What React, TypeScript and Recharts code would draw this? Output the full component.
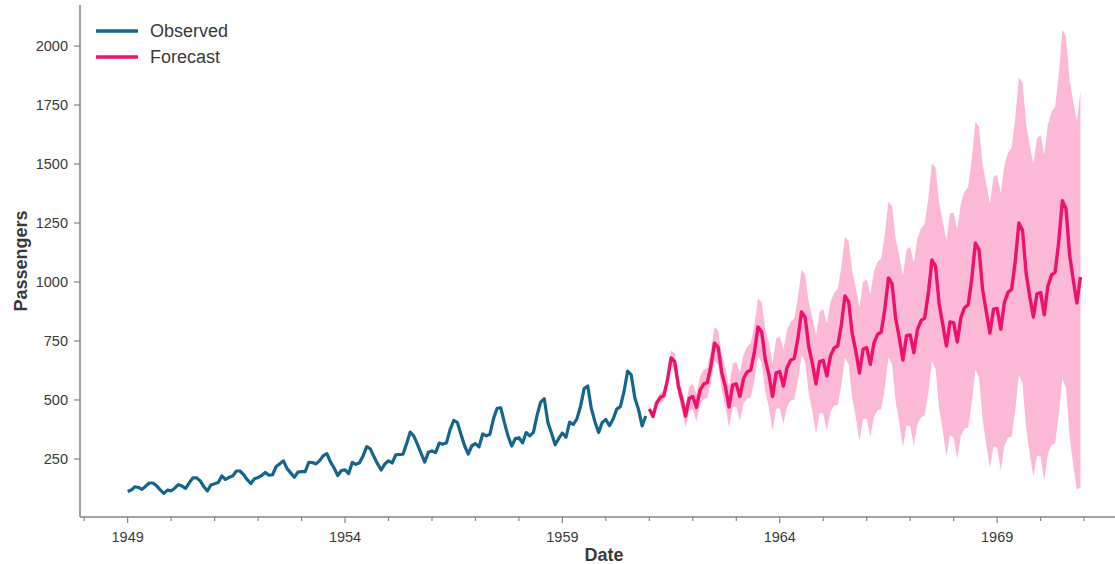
import { ComposedChart, Line, Area, XAxis, YAxis } from 'recharts'

// monthly passengers, Jan 1949 .. Dec 1960
const observedStart = 1949
const observed = [
  112, 118, 132, 129, 121, 135, 148, 148, 136, 119, 104, 118,
  115, 126, 141, 135, 125, 149, 170, 170, 158, 133, 114, 140,
  145, 150, 178, 163, 172, 178, 199, 199, 184, 162, 146, 166,
  171, 180, 193, 181, 183, 218, 230, 242, 209, 191, 172, 194,
  196, 196, 236, 235, 229, 243, 264, 272, 237, 211, 180, 201,
  204, 188, 235, 227, 234, 264, 302, 293, 259, 229, 203, 229,
  242, 233, 267, 269, 270, 315, 364, 347, 312, 274, 237, 278,
  284, 277, 317, 313, 318, 374, 413, 405, 355, 306, 271, 306,
  315, 301, 356, 348, 355, 422, 465, 467, 404, 347, 305, 336,
  340, 318, 362, 348, 363, 435, 491, 505, 404, 359, 310, 337,
  360, 342, 406, 396, 420, 472, 548, 559, 463, 407, 362, 405,
  417, 391, 419, 461, 472, 535, 622, 606, 508, 461, 390, 432,
]

// forecast, Jan 1961 .. Dec 1970
const forecastStart = 1961
const forecastMean = [
  462, 430, 487, 510, 518, 585, 678, 662, 560, 500, 432, 507,
  515, 468, 541, 567, 574, 645, 741, 722, 615, 556, 470, 563,
  568, 515, 591, 619, 627, 704, 809, 789, 671, 607, 515, 615,
  620, 559, 637, 668, 677, 760, 873, 851, 725, 655, 568, 663,
  668, 602, 687, 720, 729, 819, 941, 917, 781, 706, 614, 715,
  722, 651, 742, 778, 788, 885, 1017, 992, 844, 763, 669, 773,
  776, 700, 798, 836, 847, 951, 1093, 1066, 907, 820, 729, 831,
  827, 746, 850, 891, 903, 1014, 1165, 1136, 967, 874, 784, 885,
  888, 800, 913, 956, 969, 1088, 1250, 1219, 1038, 938, 852, 950,
  955, 861, 982, 1029, 1042, 1170, 1345, 1311, 1116, 1009, 911, 1021,
]
const forecastUpper = [
  468, 440, 501, 528, 540, 612, 710, 698, 600, 544, 479, 557,
  568, 524, 599, 628, 637, 711, 810, 794, 691, 636, 555, 653,
  662, 614, 694, 727, 739, 820, 930, 914, 801, 742, 655, 760,
  770, 714, 797, 832, 845, 933, 1051, 1034, 915, 852, 772, 873,
  884, 824, 915, 954, 969, 1065, 1192, 1174, 1044, 976, 892, 1000,
  1012, 947, 1044, 1086, 1101, 1203, 1340, 1322, 1182, 1110, 1025, 1138,
  1148, 1079, 1184, 1228, 1245, 1355, 1503, 1484, 1334, 1256, 1177, 1291,
  1295, 1222, 1334, 1383, 1403, 1521, 1679, 1658, 1497, 1414, 1334, 1445,
  1456, 1376, 1497, 1548, 1569, 1696, 1867, 1843, 1670, 1579, 1502, 1610,
  1623, 1537, 1666, 1721, 1742, 1875, 2070, 2041, 1856, 1764, 1681, 1806,
]
const forecastLower = [
  456, 420, 472, 491, 495, 557, 645, 625, 518, 454, 383, 455,
  460, 410, 481, 504, 508, 576, 669, 647, 536, 473, 382, 469,
  470, 412, 484, 507, 511, 583, 683, 659, 536, 467, 369, 464,
  464, 398, 471, 497, 502, 580, 688, 661, 527, 450, 356, 445,
  443, 371, 450, 477, 479, 563, 680, 650, 507, 425, 325, 419,
  420, 343, 428, 458, 462, 554, 681, 649, 492, 402, 299, 393,
  389, 306, 397, 428, 433, 531, 667, 631, 463, 367, 263, 353,
  340, 251, 347, 379, 383, 487, 630, 593, 416, 312, 212, 303,
  297, 201, 306, 340, 345, 456, 608, 570, 381, 271, 176, 264,
  260, 158, 271, 309, 314, 437, 591, 552, 346, 224, 121, 131,
]

const yTicks = [250, 500, 750, 1000, 1250, 1500, 1750, 2000]
const yearTicks = [1948, 1949, 1950, 1951, 1952, 1953, 1954, 1955, 1956, 1957, 1958, 1959,
  1960, 1961, 1962, 1963, 1964, 1965, 1966, 1967, 1968, 1969, 1970, 1971]
const labeledYears = [1949, 1954, 1959, 1964, 1969]

const rows = [
  ...observed.map((v, i) => ({ t: observedStart + i / 12, obs: v })),
  ...forecastMean.map((v, i) => ({
    t: forecastStart + i / 12,
    fc: v,
    band: [forecastLower[i], forecastUpper[i]],
  })),
]

const FONT = '"Liberation Sans", Arial, sans-serif'
const SPINE = '#858585'
const OBS = '#14668e'
const FC = '#f1106c'
const BAND = '#fbb9d5'

const YearTick = (props: any) => {
  const { x, y, payload } = props
  const major = labeledYears.includes(payload.value)
  return (
    <g>
      <line x1={x} x2={x} y1={y} y2={y + (major ? 6 : 4)} stroke={SPINE} strokeWidth={1.2} />
      {major && (
        <text x={x} y={y + 25} textAnchor="middle" fontSize={14.5} fill="#3a3a3a" fontFamily={FONT}>
          {payload.value}
        </text>
      )}
    </g>
  )
}

export default function App() {
  return (
    <div style={{
      position: 'absolute', left: 0, top: 0, width: 1115, height: 564,
      overflow: 'hidden', background: '#fff', fontFamily: FONT,
    }}>
      <ComposedChart width={1140} height={564} data={rows}
        margin={{ top: 5, right: 12, bottom: 7, left: 0 }}>
        <XAxis xAxisId="top" orientation="top" dataKey="t" type="number"
          domain={[1947.904, 1972.01]} allowDataOverflow height={0}
          tick={false} tickLine={false} axisLine={{ stroke: SPINE, strokeWidth: 1.5 }} />
        <XAxis dataKey="t" type="number" domain={[1947.904, 1972.01]} allowDataOverflow
          ticks={yearTicks} interval={0} height={40}
          tickSize={0} tickMargin={0} tickLine={false}
          axisLine={{ stroke: SPINE, strokeWidth: 1.5 }}
          tick={<YearTick />}
          label={({ viewBox }: any) => (
            <text x={viewBox.x + viewBox.width / 2} y={561} textAnchor="middle"
              fontSize={18} fontWeight="bold" fill="#3a3a3a" fontFamily={FONT}>Date</text>
          )} />
        <YAxis type="number" domain={[4, 2174]} allowDataOverflow ticks={yTicks} width={80}
          tickSize={6} tickMargin={6}
          tick={{ fontSize: 14.5, fill: '#3a3a3a', fontFamily: FONT }}
          tickLine={{ stroke: SPINE, strokeWidth: 1.2 }}
          axisLine={{ stroke: SPINE, strokeWidth: 1.5 }}
          label={() => (
            <text x={27} y={261} transform="rotate(-90, 27, 261)" textAnchor="middle"
              fontSize={18} fontWeight="bold" fill="#3a3a3a" fontFamily={FONT}>Passengers</text>
          )} />
        <Area xAxisId={0} dataKey="band" type="linear" stroke="none" fill={BAND} fillOpacity={1}
          isAnimationActive={false} activeDot={false} />
        <Line xAxisId={0} dataKey="obs" type="linear" stroke={OBS} strokeWidth={3.2} dot={false}
          strokeLinejoin="round" isAnimationActive={false} activeDot={false} />
        <Line xAxisId={0} dataKey="fc" type="linear" stroke={FC} strokeWidth={3.4} dot={false}
          strokeLinejoin="round" isAnimationActive={false} activeDot={false} />
      </ComposedChart>

      <div style={{ position: 'absolute', left: 96, top: 18 }}>
        {[['Observed', OBS], ['Forecast', FC]].map(([name, color]) => (
          <div key={name} style={{ display: 'flex', alignItems: 'center', height: 26 }}>
            <svg width={42} height={8} style={{ marginRight: 12 }}>
              <line x1={1} x2={41} y1={4} y2={4} stroke={color} strokeWidth={3.5} strokeLinecap="round" />
            </svg>
            <span style={{ fontSize: 18, color: '#3a3a3a' }}>{name}</span>
          </div>
        ))}
      </div>
    </div>
  )
}
